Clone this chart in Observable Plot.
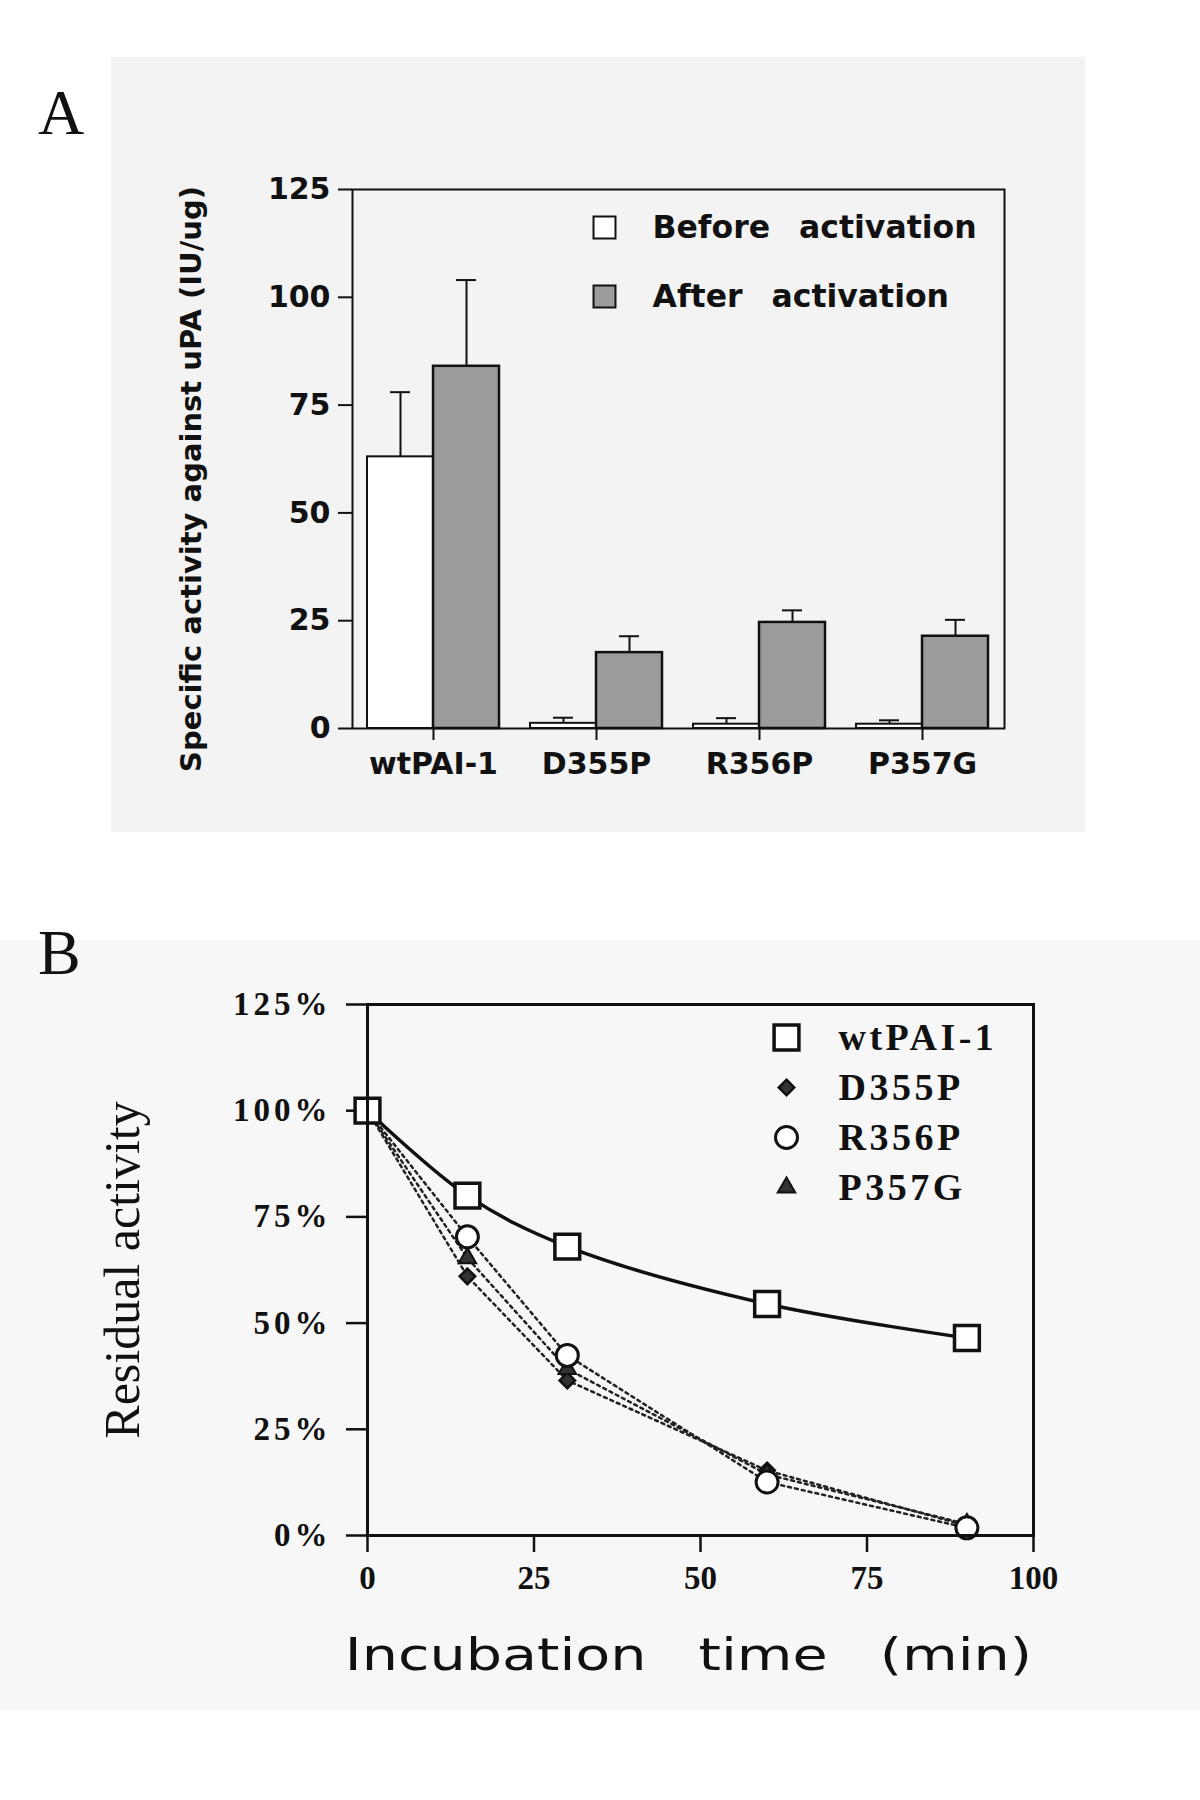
<!DOCTYPE html>
<html><head><meta charset="utf-8">
<script src="https://cdn.jsdelivr.net/npm/d3@7"></script>
<script src="https://cdn.jsdelivr.net/npm/@observablehq/plot@0.6"></script>
<style>
html,body{margin:0;padding:0;background:#fff;}
#page{position:relative;width:1200px;height:1800px;overflow:hidden;}
.bg{position:absolute;}
#bgA{left:111px;top:57px;width:974px;height:775px;background:#f3f3f3;}
#bgB{left:0;top:940px;width:1200px;height:770px;background:#f7f7f7;}
.panel{position:absolute;left:0;}
#plotA{top:0;}
#plotB{top:900px;}
.lab{position:absolute;font-family:"Liberation Serif",serif;font-size:64px;line-height:1;color:#111;}
#plotA [aria-label*="axis"] line, #plotA [aria-label*="axis"] path{stroke-width:2px;}
#plotB [aria-label*="axis"] line, #plotB [aria-label*="axis"] path{stroke-width:2.5px;}
</style></head>
<body><div id="page">
<div class="bg" id="bgA"></div><div class="bg" id="bgB"></div>
<div class="lab" style="left:38px;top:81px">A</div>
<div class="lab" style="left:38px;top:921px">B</div>
<div class="panel" id="plotA"></div><div class="panel" id="plotB"></div>
</div>
<script>
// ---------- Panel A data ----------
const categories = ["wtPAI-1", "D355P", "R356P", "P357G"];
const seriesA = ["Before activation", "After activation"];
const beforeValues = [63, 1.2, 1.0, 1.0];
const beforeErrors = [15, 1.3, 1.4, 0.9];
const afterValues = [84, 17.6, 24.6, 21.4];
const afterErrors = [20, 3.8, 2.8, 3.8];
const yTicksA = [0, 25, 50, 75, 100, 125];

// ---------- Panel B data ----------
const times = [0, 15, 30, 60, 90];
const seriesB = ["wtPAI-1", "D355P", "R356P", "P357G"];
const wtValues = [100, 80, 68, 54.5, 46.5];
const d355pValues = [100, 61, 36.5, 15.3, 2.3];
const r356pValues = [100, 70.3, 42.4, 12.6, 1.8];
const p357gValues = [100, 65.3, 39.2, 14.4, 2.7];
const xTicksB = [0, 25, 50, 75, 100];
const yTicksB = [0, 25, 50, 75, 100, 125];

// ---------- Panel A ----------
const WA = 1100, HA = 800, mlA = 352, mrA = 96, mtA = 189, mbA = 72;
const padIn = 0.19;
const bw = (WA - mlA - mrA) / categories.length * (1 - padIn);
const half = bw / 2;
const before = categories.map((c, i) => ({cat: c, value: beforeValues[i], err: beforeErrors[i]}));
const after = categories.map((c, i) => ({cat: c, value: afterValues[i], err: afterErrors[i]}));
const fillsA = {"Before activation": "#ffffff", "After activation": "#9b9b9b"};
const ink = "#111";

const legendA = seriesA.flatMap((s, i) => [
  Plot.dot([s], {frameAnchor: "top-left", dx: 252, dy: 38 + i * 69, symbol: "square", r: 12.4,
    fill: fillsA[s], stroke: ink, strokeWidth: 2}),
  Plot.text([s], {frameAnchor: "top-left", dx: 300, dy: 38 + i * 69, text: d => d,
    textAnchor: "start", lineAnchor: "middle", fontSize: 31.5, fill: ink})
]);

const plotA = Plot.plot({
  width: WA, height: HA,
  marginLeft: mlA, marginRight: mrA, marginTop: mtA, marginBottom: mbA,
  style: {background: "transparent", fontFamily: "DejaVu Sans", fontWeight: "bold", fontSize: "30px", color: ink},
  x: {type: "band", domain: categories, paddingInner: padIn, paddingOuter: padIn / 2, align: 0.5,
      tickSize: 12, tickPadding: 12, label: null},
  y: {domain: [0, 125], ticks: yTicksA, tickSize: 14, tickPadding: 8, label: null},
  marks: [
    Plot.ruleX(before, {x: "cat", y1: "value", y2: d => d.value + d.err, dx: -half / 2, stroke: ink, strokeWidth: 2}),
    Plot.tickY(before, {x: "cat", y: d => d.value + d.err, dx: -half / 2, insetLeft: half - 10, insetRight: half - 10, stroke: ink, strokeWidth: 2}),
    Plot.ruleX(after, {x: "cat", y1: "value", y2: d => d.value + d.err, dx: half / 2, stroke: ink, strokeWidth: 2}),
    Plot.tickY(after, {x: "cat", y: d => d.value + d.err, dx: half / 2, insetLeft: half - 10, insetRight: half - 10, stroke: ink, strokeWidth: 2}),
    Plot.barY(before, {x: "cat", y: "value", insetRight: half, fill: fillsA[seriesA[0]], stroke: ink, strokeWidth: 2}),
    Plot.barY(after, {x: "cat", y: "value", insetLeft: half, fill: fillsA[seriesA[1]], stroke: ink, strokeWidth: 2.5}),
    Plot.frame({stroke: ink, strokeWidth: 2}),
    Plot.text(["Specific activity against uPA (IU/ug)"], {frameAnchor: "left", dx: -161, dy: 20, rotate: -90,
      textAnchor: "middle", lineAnchor: "middle", text: d => d, fontSize: 29, fill: ink}),
    ...legendA
  ]
});
document.getElementById("plotA").appendChild(plotA);

// ---------- Panel B ----------
const WB = 1200, HB = 800, mlB = 367, mrB = 167, mtB = 104, mbB = 165;
const valuesB = {"wtPAI-1": wtValues, "D355P": d355pValues, "R356P": r356pValues, "P357G": p357gValues};
const rowsB = seriesB.flatMap(s => times.map((t, j) => ({series: s, time: t, value: valuesB[s][j]})));
const bySeries = s => rowsB.filter(d => d.series === s);
const symStyle = {
  "wtPAI-1": {symbol: "square", r: 14, fill: "#fff", stroke: ink, strokeWidth: 3.5},
  "D355P": {symbol: "diamond2", r: 7, fill: "#333", stroke: ink, strokeWidth: 2.5},
  "R356P": {symbol: "circle", r: 11, fill: "#fff", stroke: ink, strokeWidth: 3},
  "P357G": {symbol: "triangle", r: 6.5, fill: "#333", stroke: ink, strokeWidth: 2}
};
const dotted = {stroke: "#222", strokeWidth: 2.5, strokeDasharray: "3,4"};

const legendB = seriesB.flatMap((s, i) => [
  Plot.dot([s], {frameAnchor: "top-left", dx: 419, dy: 33 + i * 50, ...symStyle[s]}),
  Plot.text([s], {frameAnchor: "top-left", dx: 471, dy: 33 + i * 50, text: d => d,
    textAnchor: "start", lineAnchor: "middle", fontSize: 38, fill: ink})
]);

const plotB = Plot.plot({
  width: WB, height: HB,
  marginLeft: mlB, marginRight: mrB, marginTop: mtB, marginBottom: mbB,
  style: {background: "transparent", fontFamily: "Liberation Serif", fontWeight: "bold", fontSize: "33px", color: ink},
  x: {domain: [0, 100], ticks: xTicksB, tickSize: 17, tickPadding: 13, label: null},
  y: {domain: [0, 125], ticks: yTicksB, tickFormat: d => d + "%", tickSize: 21, tickPadding: 15, label: null},
  marks: [
    Plot.line(bySeries("D355P"), {x: "time", y: "value", ...dotted}),
    Plot.line(bySeries("P357G"), {x: "time", y: "value", ...dotted, strokeDashoffset: 3}),
    Plot.line(bySeries("R356P"), {x: "time", y: "value", ...dotted}),
    Plot.line(bySeries("wtPAI-1"), {x: "time", y: "value", stroke: ink, strokeWidth: 3.5, curve: "catmull-rom"}),
    Plot.dot(bySeries("D355P"), {x: "time", y: "value", ...symStyle["D355P"]}),
    Plot.dot(bySeries("P357G"), {x: "time", y: "value", ...symStyle["P357G"]}),
    Plot.dot(bySeries("R356P"), {x: "time", y: "value", ...symStyle["R356P"]}),
    Plot.dot(bySeries("wtPAI-1"), {x: "time", y: "value", ...symStyle["wtPAI-1"]}),
    Plot.frame({stroke: ink, strokeWidth: 3}),
    Plot.text(["Residual activity"], {frameAnchor: "left", dx: -245, rotate: -90, text: d => d,
      textAnchor: "middle", lineAnchor: "middle",
      fontFamily: "Liberation Serif", fontWeight: "normal", fontSize: 50, fill: ink}),
    Plot.text(["Incubation time (min)"], {frameAnchor: "bottom", dx: -12, dy: 120, text: d => d,
      textAnchor: "middle", lineAnchor: "middle",
      fontFamily: "DejaVu Sans", fontWeight: "normal", fontSize: 44, fill: ink}),
    ...legendB
  ]
});
document.getElementById("plotB").appendChild(plotB);

// text styling refinements
plotB.querySelectorAll("text").forEach(t => {
  const s = t.textContent;
  if (s === "Incubation time (min)") {
    t.setAttribute("transform", (t.getAttribute("transform") || "") + " scale(1.3,1)");
    t.style.wordSpacing = "26px";
  } else if (seriesB.includes(s)) {
    t.style.letterSpacing = "3.5px";
  } else if (/%$/.test(s)) {
    t.style.letterSpacing = "4px";
  }
});
plotA.querySelectorAll("text").forEach(t => {
  if (seriesA.includes(t.textContent)) t.style.wordSpacing = "18px";
});
</script>
</body></html>
